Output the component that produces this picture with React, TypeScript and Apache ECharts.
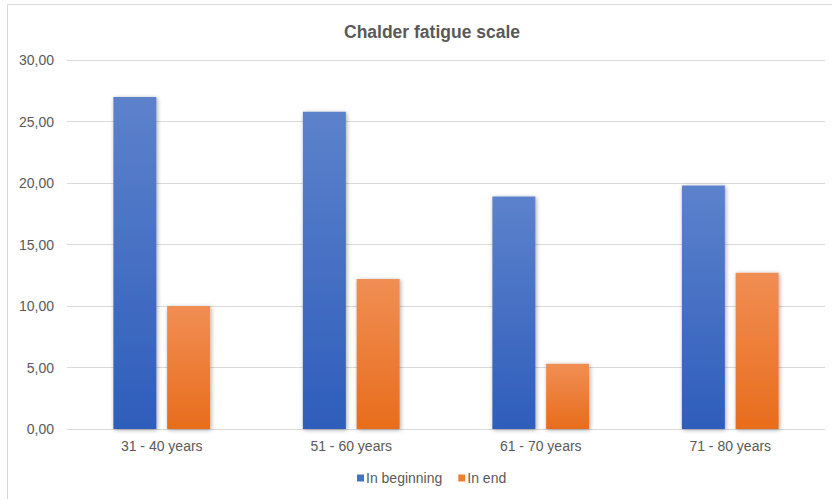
import React, { useEffect, useRef } from "react";
import * as echarts from "echarts";

const categories = ["31 - 40 years", "51 - 60 years", "61 - 70 years", "71 - 80 years"];
const inBeginning = [27.0, 25.8, 18.9, 19.8];
const inEnd = [10.0, 12.2, 5.3, 12.7];
const seriesNames = ["In beginning", "In end"];
const chartTitle = "Chalder fatigue scale";

export default function App() {
  const ref = useRef<HTMLDivElement>(null);
  useEffect(() => {
    if (!ref.current) return;
    const chart = echarts.init(ref.current, undefined, { renderer: "svg" });
    const font = "Arial, 'Liberation Sans', sans-serif";
    const blue = new echarts.graphic.LinearGradient(0, 0, 0, 1, [
      { offset: 0, color: "#5d82cc" },
      { offset: 1, color: "#2e5dbb" },
    ]);
    const orange = new echarts.graphic.LinearGradient(0, 0, 0, 1, [
      { offset: 0, color: "#f18e54" },
      { offset: 1, color: "#e86d1c" },
    ]);
    chart.setOption({
      animation: false,
      backgroundColor: "#ffffff",
      title: {
        text: chartTitle,
        left: 339,
        top: 18,
        textStyle: { fontFamily: font, fontSize: 17.5, fontWeight: "bold", color: "#595959" },
      },
      graphic: [
        {
          type: "rect",
          shape: { x: 7.5, y: 4.5, width: 900, height: 600 },
          style: { fill: "none", stroke: "#d9d9d9", lineWidth: 1 },
          silent: true,
          z: -1,
        },
      ],
      legend: {
        bottom: 9,
        left: 352,
        itemWidth: 7,
        itemHeight: 7,
        itemGap: 16,
        icon: "rect",
        textStyle: { fontFamily: font, fontSize: 14, color: "#595959", padding: [0, 0, 0, -3] },
        data: [
          { name: seriesNames[0], itemStyle: { color: "#4472c4" } },
          { name: seriesNames[1], itemStyle: { color: "#ed7d31" } },
        ],
      },
      grid: { left: 67, right: 7, top: 60, bottom: 70 },
      xAxis: {
        type: "category",
        data: categories,
        axisLine: { lineStyle: { color: "#d9d9d9", width: 1 } },
        axisTick: { show: false },
        axisLabel: { fontFamily: font, fontSize: 14, color: "#595959", margin: 10 },
      },
      yAxis: {
        type: "value",
        min: 0,
        max: 30,
        interval: 5,
        axisLine: { show: false },
        axisTick: { show: false },
        splitLine: { lineStyle: { color: "#d9d9d9", width: 1 } },
        axisLabel: {
          fontFamily: font,
          fontSize: 14,
          color: "#595959",
          margin: 13,
          formatter: (v: number) => v.toFixed(2).replace(".", ","),
        },
      },
      series: [
        {
          name: seriesNames[0],
          type: "bar",
          data: inBeginning,
          barWidth: 43,
          barGap: "25%",
          itemStyle: {
            color: blue,
            shadowBlur: 4,
            shadowColor: "rgba(0,0,0,0.35)",
            shadowOffsetX: 1,
            shadowOffsetY: 1,
          },
        },
        {
          name: seriesNames[1],
          type: "bar",
          data: inEnd,
          barWidth: 43,
          barGap: "25%",
          itemStyle: {
            color: orange,
            shadowBlur: 4,
            shadowColor: "rgba(0,0,0,0.35)",
            shadowOffsetX: 1,
            shadowOffsetY: 1,
          },
        },
      ],
    });
    return () => chart.dispose();
  }, []);
  return (
    <div
      ref={ref}
      style={{ position: "absolute", left: 0, top: 0, width: 832, height: 499 }}
    />
  );
}
